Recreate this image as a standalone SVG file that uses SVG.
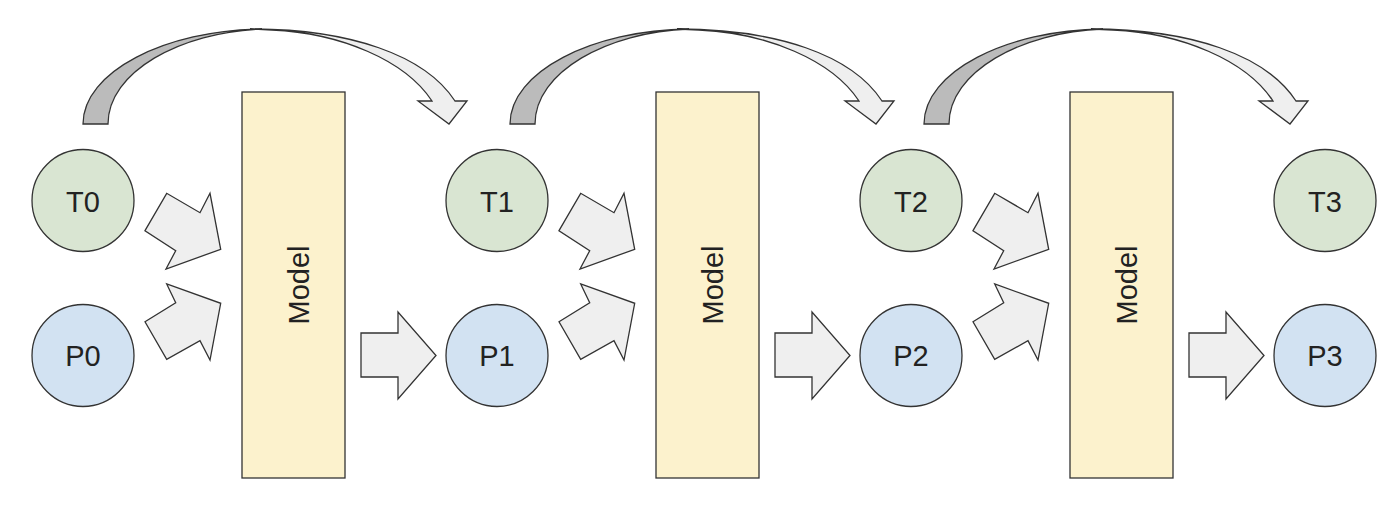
<svg xmlns="http://www.w3.org/2000/svg" xmlns:xlink="http://www.w3.org/1999/xlink" width="1400" height="509" viewBox="0 0 1400 509">
<style>
.t{fill:#d9e5d2;stroke:#333;stroke-width:1.3}
.p{fill:#d2e2f2;stroke:#333;stroke-width:1.3}
.m{fill:#fcf2cd;stroke:#333;stroke-width:1.3}
.lbl{font-family:"Liberation Sans",Arial,sans-serif;font-size:29px;fill:#222;text-anchor:middle}
.ba{fill:#efefef;stroke:#333;stroke-width:1.3;stroke-linejoin:miter}
.dk{fill:#bbbbbb;stroke:#333;stroke-width:1.3}
.lt{fill:#efefef;stroke:#333;stroke-width:1.3}
</style>
<defs>
<g id="curve">
<path class="lt" d="M250,29 C350,29 425,55 455,101 L467,101 L449,124 L418,101 L432,101 C405,60 340,33 272,30 Z"/>
<path class="dk" d="M83,124 C83,72 165,30 262,29 C180,32 108,72 108,124 Z"/>
</g>
<g id="arrows">
<polygon class="ba" points="145,230.7 166.7,193.3 200,212.7 210,193.3 220.7,249.3 166,269 175.7,250.7"/>
<polygon class="ba" points="145,321.7 175.7,302.7 166.7,284 220.7,303.3 210,360 200,340.7 166.7,359.3"/>
<polygon class="ba" points="361,333 398,333 398,312 436,355.5 398,399 398,377 361,377"/>
</g>
</defs>
<g id="connectors">
<use xlink:href="#curve"/>
<use xlink:href="#curve" transform="translate(427,0)"/>
<use xlink:href="#curve" transform="translate(841,0)"/>
<use xlink:href="#arrows"/>
<use xlink:href="#arrows" transform="translate(414,0)"/>
<use xlink:href="#arrows" transform="translate(828,0)"/>
</g>
<g id="T0"><circle class="t" cx="83" cy="200.5" r="51"/><text class="lbl" x="83" y="211.5">T0</text></g>
<g id="P0"><circle class="p" cx="83" cy="355.5" r="51"/><text class="lbl" x="83" y="366">P0</text></g>
<g id="Model1"><rect class="m" x="242" y="92" width="103" height="386"/><text class="lbl" transform="translate(309,285) rotate(-90)">Model</text></g>
<g id="T1"><circle class="t" cx="497" cy="200.5" r="51"/><text class="lbl" x="497" y="211.5">T1</text></g>
<g id="P1"><circle class="p" cx="497" cy="355.5" r="51"/><text class="lbl" x="497" y="366">P1</text></g>
<g id="Model2"><rect class="m" x="656" y="92" width="103" height="386"/><text class="lbl" transform="translate(723,285) rotate(-90)">Model</text></g>
<g id="T2"><circle class="t" cx="911" cy="200.5" r="51"/><text class="lbl" x="911" y="211.5">T2</text></g>
<g id="P2"><circle class="p" cx="911" cy="355.5" r="51"/><text class="lbl" x="911" y="366">P2</text></g>
<g id="Model3"><rect class="m" x="1070" y="92" width="103" height="386"/><text class="lbl" transform="translate(1137,285) rotate(-90)">Model</text></g>
<g id="T3"><circle class="t" cx="1325" cy="200.5" r="51"/><text class="lbl" x="1325" y="211.5">T3</text></g>
<g id="P3"><circle class="p" cx="1325" cy="355.5" r="51"/><text class="lbl" x="1325" y="366">P3</text></g>
</svg>
